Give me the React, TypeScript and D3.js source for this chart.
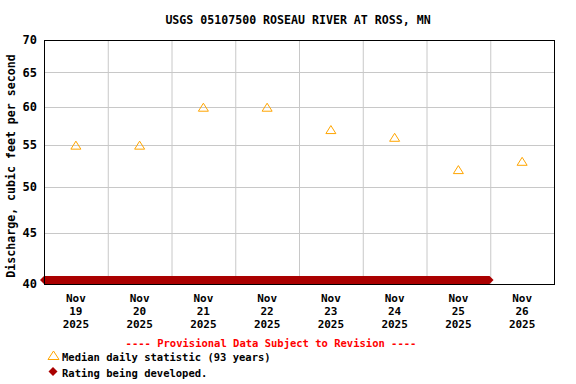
import React, { useEffect, useRef } from "react";
import * as d3 from "d3";

// median daily statistic (93 years), one per day, plotted at noon
const medianDays = [
  "2025-11-19", "2025-11-20", "2025-11-21", "2025-11-22",
  "2025-11-23", "2025-11-24", "2025-11-25", "2025-11-26",
];
const medianValues = [55, 55, 60, 60, 57, 56, 52, 53];

// provisional discharge, rating being developed (below axis minimum)
const ratingStart = "2025-11-19T00:00";
const ratingEnd = "2025-11-25T23:45";

const yTicks = [40, 45, 50, 55, 60, 65, 70];
const xDomain = ["2025-11-19T00:00", "2025-11-27T00:00"];

const FONT = "'DejaVu Sans Mono', monospace";

const App = () => {
  const ref = useRef<SVGSVGElement>(null);

  useEffect(() => {
    const svg = d3.select(ref.current);
    svg.selectAll("*").remove();

    const margin = { top: 40, right: 22, bottom: 100, left: 44 };
    const width = 576;
    const height = 384;

    const x = d3
      .scaleTime()
      .domain(xDomain.map((d) => new Date(d)))
      .range([margin.left, width - margin.right]);

    const y = d3
      .scaleLog()
      .domain([40, 70])
      .range([height - margin.bottom, margin.top]);

    svg.append("rect").attr("width", width).attr("height", height).attr("fill", "white");

    // grid
    const days = d3.timeDay.range(new Date(xDomain[0]), new Date(xDomain[1]));
    svg
      .append("g")
      .selectAll("line")
      .data(days.slice(1))
      .join("line")
      .attr("x1", (d) => x(d) + 0.5)
      .attr("x2", (d) => x(d) + 0.5)
      .attr("y1", margin.top)
      .attr("y2", height - margin.bottom)
      .attr("stroke", "#c8c8c8");

    svg
      .append("g")
      .selectAll("line")
      .data(yTicks.slice(1, -1))
      .join("line")
      .attr("x1", margin.left)
      .attr("x2", width - margin.right)
      .attr("y1", (d) => Math.round(y(d)) + 0.5)
      .attr("y2", (d) => Math.round(y(d)) + 0.5)
      .attr("stroke", "#c8c8c8");

    // rating band
    const rx0 = x(new Date(ratingStart));
    const rx1 = x(new Date(ratingEnd));
    const yc = height - margin.bottom - 4;
    svg
      .append("path")
      .attr(
        "d",
        `M${rx0 - 4},${yc} L${rx0},${yc - 4} L${rx1},${yc - 4} L${rx1 + 4},${yc} L${rx1},${yc + 4} L${rx0},${yc + 4} Z`
      )
      .attr("fill", "#aa0000");

    // frame
    svg
      .append("rect")
      .attr("x", margin.left + 0.5)
      .attr("y", margin.top + 0.5)
      .attr("width", width - margin.left - margin.right)
      .attr("height", height - margin.top - margin.bottom)
      .attr("fill", "none")
      .attr("stroke", "black");

    // median triangles
    const tri = (cx: number, cy: number) =>
      `M${cx - 5},${cy + 4} L${cx},${cy - 4} L${cx + 5},${cy + 4} Z`;
    svg
      .append("g")
      .selectAll("path")
      .data(medianDays)
      .join("path")
      .attr("d", (d, i) => tri(x(new Date(d + "T12:00")), y(medianValues[i])))
      .attr("fill", "none")
      .attr("stroke", "#ffa500")
      .attr("stroke-width", 1);

    // y tick labels
    svg
      .append("g")
      .selectAll("text")
      .data(yTicks)
      .join("text")
      .attr("x", 37)
      .attr("y", (d) => y(d))
      .attr("dy", "0.35em")
      .attr("text-anchor", "end")
      .attr("font-family", FONT)
      .attr("font-weight", "bold")
      .attr("font-size", 12)
      .text((d) => d);

    // x tick labels
    const xl = svg
      .append("g")
      .selectAll("text")
      .data(days)
      .join("text")
      .attr("x", (d) => x(d3.timeHour.offset(d, 12)))
      .attr("y", 302)
      .attr("text-anchor", "middle")
      .attr("font-family", FONT)
      .attr("font-weight", "bold")
      .attr("font-size", 11);
    xl.append("tspan").attr("dy", 0).text((d) => d3.timeFormat("%b")(d));
    xl.append("tspan")
      .attr("x", (d) => x(d3.timeHour.offset(d, 12)))
      .attr("dy", 13)
      .text((d) => d3.timeFormat("%d")(d));
    xl.append("tspan")
      .attr("x", (d) => x(d3.timeHour.offset(d, 12)))
      .attr("dy", 13)
      .text((d) => d3.timeFormat("%Y")(d));

    // title
    svg
      .append("text")
      .attr("x", 298)
      .attr("y", 24)
      .attr("text-anchor", "middle")
      .attr("font-family", FONT)
      .attr("font-weight", "bold")
      .attr("font-size", 11.6)
      .text("USGS 05107500 ROSEAU RIVER AT ROSS, MN");

    // y label
    svg
      .append("text")
      .attr("transform", "translate(15,166) rotate(-90)")
      .attr("text-anchor", "middle")
      .attr("font-family", FONT)
      .attr("font-weight", "bold")
      .attr("font-size", 11.6)
      .text("Discharge, cubic feet per second");

    // provisional note
    svg
      .append("text")
      .attr("x", 271)
      .attr("y", 347)
      .attr("text-anchor", "middle")
      .attr("font-family", FONT)
      .attr("font-weight", "bold")
      .attr("font-size", 10.5)
      .attr("fill", "red")
      .text("---- Provisional Data Subject to Revision ----");

    // legend
    svg
      .append("path")
      .attr("d", `M48,359.5 L53.5,351 L59,359.5 Z`)
      .attr("fill", "none")
      .attr("stroke", "#ffa500");
    svg
      .append("path")
      .attr("d", `M53,367 L57.5,371.5 L53,376 L48.5,371.5 Z`)
      .attr("fill", "#aa0000");
    svg
      .append("text")
      .attr("x", 62)
      .attr("y", 361)
      .attr("font-family", FONT)
      .attr("font-weight", "bold")
      .attr("font-size", 10.5)
      .text("Median daily statistic (93 years)");
    svg
      .append("text")
      .attr("x", 62)
      .attr("y", 377)
      .attr("font-family", FONT)
      .attr("font-weight", "bold")
      .attr("font-size", 10.5)
      .text("Rating being developed.");
  }, []);

  return (
    <svg
      ref={ref}
      width={576}
      height={384}
      style={{ position: "absolute", left: 0, top: 0 }}
    ></svg>
  );
};

export default App;
